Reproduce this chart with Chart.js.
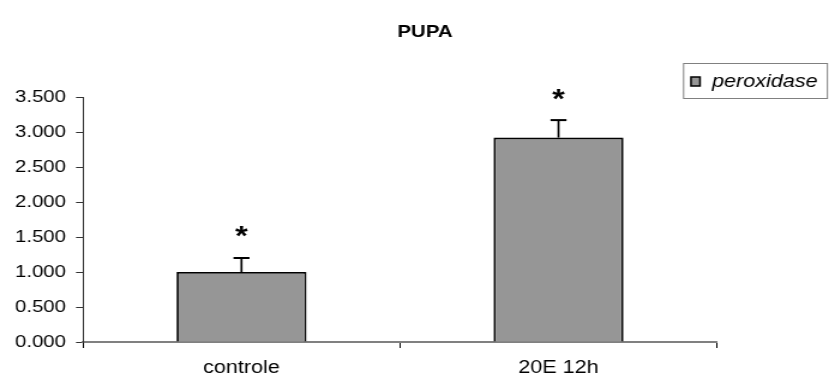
<!DOCTYPE html>
<html>
<head>
<meta charset="utf-8">
<script src="https://cdn.jsdelivr.net/npm/chart.js@4/dist/chart.umd.min.js"></script>
<style>
html,body{margin:0;padding:0;background:#fff;}
#wrap{width:829px;height:383px;position:relative;overflow:hidden;}
#c{width:829px;height:383px;display:block;}
</style>
</head>
<body>
<div id="wrap"><canvas id="c" width="691" height="383" style="width:829px;height:383px;"></canvas></div>
<script>
const chartTitle = "PUPA";
const categories = ["controle", "20E 12h"];
const seriesName = "peroxidase";
const values = [1.00, 2.92];
const errors = [0.20, 0.25];
const significance = ["*", "*"];
const yTicks = [0, 0.5, 1, 1.5, 2, 2.5, 3, 3.5];

const FONT = "'Liberation Sans', Arial, sans-serif";
// the reference picture is horizontally stretched; the canvas is drawn narrower and widened by CSS
const SX = 691 / 829;

const overlay = {
  id: 'overlay',
  afterDatasetsDraw(chart) {
    const ctx = chart.ctx;
    const meta = chart.getDatasetMeta(0);
    const y = chart.scales.y;
    ctx.save();
    meta.data.forEach((bar, i) => {
      const top = y.getPixelForValue(values[i] + errors[i]);
      const base = y.getPixelForValue(values[i]);
      ctx.strokeStyle = '#000';
      ctx.lineWidth = 1.7;
      ctx.beginPath();
      ctx.moveTo(bar.x, base);
      ctx.lineTo(bar.x, top);
      ctx.stroke();
      ctx.lineWidth = 2;
      ctx.beginPath();
      ctx.moveTo(bar.x - 8 * SX, top);
      ctx.lineTo(bar.x + 8 * SX, top);
      ctx.stroke();
      ctx.fillStyle = '#000';
      ctx.font = "bold 27px " + FONT;
      ctx.textAlign = 'center';
      ctx.textBaseline = 'middle';
      ctx.fillText(significance[i], bar.x, top - 20);
    });
    // title
    ctx.font = "bold 17px " + FONT;
    ctx.textAlign = 'center';
    ctx.textBaseline = 'middle';
    ctx.fillStyle = '#000';
    ctx.fillText(chartTitle, 425 * SX, 32);
    // legend
    const lx = 683 * SX, ly = 63, lw = 145 * SX, lh = 36;
    ctx.fillStyle = '#fff';
    ctx.fillRect(lx, ly, lw, lh);
    ctx.strokeStyle = '#808080';
    ctx.lineWidth = 1;
    ctx.strokeRect(lx + 0.5, ly + 0.5, lw - 1, lh - 1);
    ctx.fillStyle = '#969696';
    ctx.fillRect(691 * SX, 77, 9 * SX, 9);
    ctx.strokeStyle = '#000';
    ctx.lineWidth = 1.5;
    ctx.strokeRect(691 * SX, 77, 9 * SX, 9);
    ctx.fillStyle = '#000';
    ctx.font = "italic 18px " + FONT;
    ctx.textAlign = 'left';
    ctx.fillText(seriesName, 712 * SX, 82);
    ctx.restore();
  }
};

new Chart(document.getElementById('c'), {
  type: 'bar',
  data: {
    labels: categories,
    datasets: [{
      label: seriesName,
      data: values,
      backgroundColor: '#969696',
      borderColor: '#000',
      borderWidth: 1.8,
      categoryPercentage: 1.0,
      barPercentage: 0.41
    }]
  },
  options: {
    responsive: false,
    animation: false,
    devicePixelRatio: 1,
    layout: { padding: { top: 97, right: 691 - 717 * SX, left: 0, bottom: 0 } },
    plugins: { legend: { display: false }, title: { display: false }, tooltip: { enabled: false } },
    scales: {
      x: {
        offset: true,
        grid: { offset: true, drawOnChartArea: false, drawTicks: true, tickLength: 6, color: '#000', lineWidth: 1 },
        border: { color: '#808080', width: 2 },
        ticks: { color: '#000', font: { family: FONT, size: 18 }, padding: 9 },
        afterFit(s) { s.height = 41; }
      },
      y: {
        min: 0, max: 3.5,
        afterBuildTicks(s) { s.ticks = yTicks.map(v => ({ value: v })); },
        grid: { drawOnChartArea: false, drawTicks: true, tickLength: 7 * SX, color: '#333' },
        border: { color: '#333', width: 1 },
        ticks: { color: '#000', font: { family: FONT, size: 17 }, padding: 10 * SX,
                 callback: v => Number(v).toFixed(3) },
        afterFit(s) { s.width = 83 * SX; }
      }
    }
  },
  plugins: [overlay]
});
</script>
</body>
</html>
